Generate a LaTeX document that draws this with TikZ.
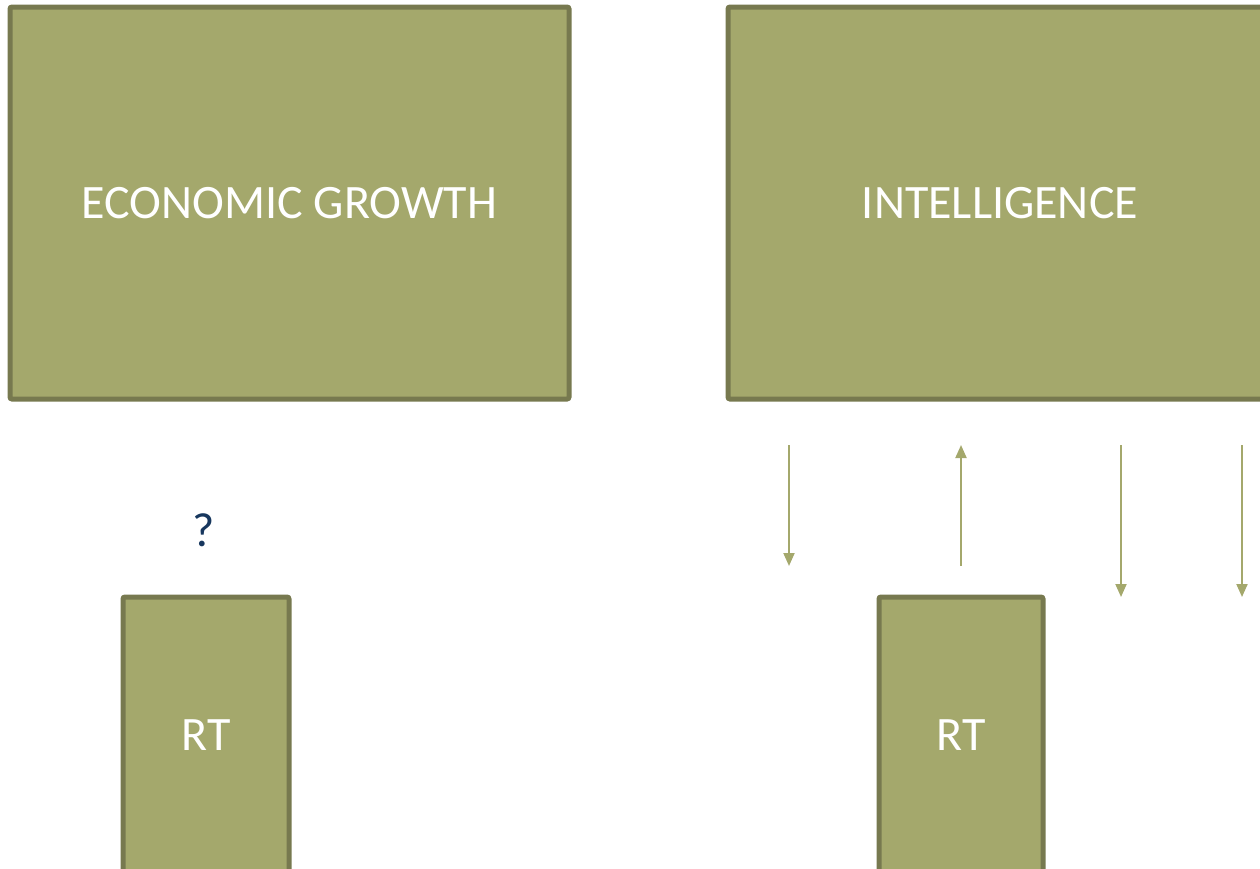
\documentclass[tikz,border=0pt]{standalone}
\usepackage{fontspec}
\setmainfont{Carlito}
\usetikzlibrary{arrows.meta}
\definecolor{olivefill}{RGB}{164,168,108}
\definecolor{oliveline}{RGB}{119,121,79}
\definecolor{arrowcol}{RGB}{164,168,108}
\definecolor{qblue}{RGB}{23,55,94}
\begin{document}
\begin{tikzpicture}[x=1pt,y=-1pt,
  box/.style={draw=oliveline,fill=olivefill,line width=5pt,rounded corners=2pt,
    text=white,font=\fontsize{48}{58}\selectfont,inner sep=0pt,outer sep=0pt},
  arr/.style={draw=arrowcol,line width=2pt,-{Triangle[width=11pt,length=13pt]}}]
\useasboundingbox (0,0) rectangle (1260,868);
\begin{scope}
\clip (0,0) rectangle (1260,868);
\node[box,minimum width=559pt,minimum height=392pt] (eg) at (289.5,203) {ECONOMIC GROWTH};
\node[box,minimum width=544pt,minimum height=392pt] (intel) at (1000,203) {INTELLIGENCE};
\node[box,minimum width=166pt,minimum height=276pt] (rt1) at (206,735) {RT};
\node[box,minimum width=164pt,minimum height=276pt] (rt2) at (961,735) {RT};
\node[text=qblue,font=\fontsize{48}{58}\selectfont,inner sep=0pt] (q) at (204,530) {?};
\coordinate (a1s) at (789,445); \coordinate (a1e) at (789,566);
\coordinate (a2s) at (961,566); \coordinate (a2e) at (961,445);
\coordinate (a3s) at (1121,445); \coordinate (a3e) at (1121,597);
\coordinate (a4s) at (1242,445); \coordinate (a4e) at (1242,597);
\draw[arr] (a1s) -- (a1e);
\draw[arr] (a2s) -- (a2e);
\draw[arr] (a3s) -- (a3e);
\draw[arr] (a4s) -- (a4e);
\end{scope}
\end{tikzpicture}
\end{document}
